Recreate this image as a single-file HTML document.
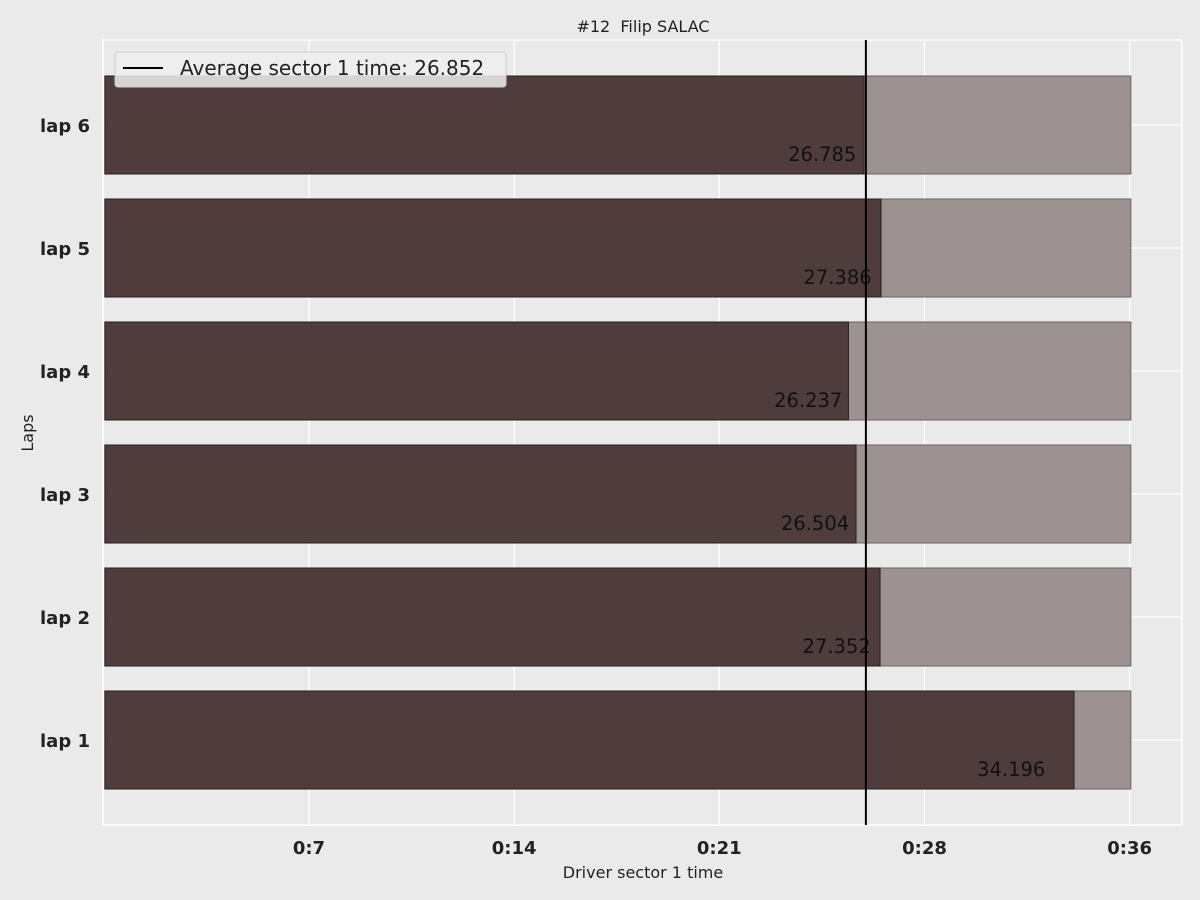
<!DOCTYPE html>
<html><head><meta charset="utf-8"><style>
body{margin:0;background:#eaeaea;}
svg{display:block;font-family:"DejaVu Sans","Liberation Sans",sans-serif;}
</style></head><body>
<svg id="chart" width="1200" height="900">
<rect width="1200" height="900" fill="#eaeaea"/>
<text x="643" y="32" text-anchor="middle" font-size="16" fill="#222">#12&#160; Filip SALAC</text>
<g id="plot"></g>
<text x="643" y="878" text-anchor="middle" font-size="16" fill="#222">Driver sector 1 time</text>
<text transform="translate(33,433) rotate(-90)" text-anchor="middle" font-size="16" fill="#222">Laps</text>
</svg>
<script>
const laps = ["lap 1","lap 2","lap 3","lap 4","lap 5","lap 6"];
const times = [34.196,27.352,26.504,26.237,27.386,26.785];
const avgTime = 26.852;
const tickValues = [7.2,14.44,21.68,28.92,36.16];
const tickLabels = ["0:7","0:14","0:21","0:28","0:36"];
const bgMax = 36.2;

const NS="http://www.w3.org/2000/svg";
const L=103,R=1182,T=40,B=825;
const x0=104.9,pps=28.34;
const x=v=>x0+v*pps;
const y=i=>740-i*123;
const g=document.getElementById('plot');
function el(t,a,p){const e=document.createElementNS(NS,t);for(const k in a)e.setAttribute(k,a[k]);(p||g).appendChild(e);return e;}
tickValues.forEach((v,i)=>{
  const ln=el('line',{x1:x(v),x2:x(v),y1:T,y2:B,stroke:'#fff','stroke-width':1.2});
  
  
  const t=el('text',{x:x(v),y:854,'text-anchor':'middle','font-size':18,'font-weight':'bold',fill:'#222'});
  t.textContent=tickLabels[i];
  
  
});
laps.forEach((l,i)=>{
  const ln=el('line',{x1:L,x2:R,y1:y(i),y2:y(i),stroke:'#fff','stroke-width':1.2});
  
  
});
const frame=el('rect',{x:L,y:T,width:R-L,height:B-T,fill:'none',stroke:'#fff','stroke-width':1.5});


laps.forEach((l,i)=>{
  const bg=el('rect',{x:x(0),y:y(i)-49,width:x(bgMax)-x(0),height:98,fill:'#9c9292',stroke:'#6a6262','stroke-width':1});
  
  
  const b=el('rect',{x:x(0),y:y(i)-49,width:x(times[i])-x(0),height:98,fill:'#4f3d3d',stroke:'#2a2020','stroke-width':1});
  
  
  const vt=el('text',{x:x(times[i]*0.9),y:y(i)+36,'text-anchor':'start','font-size':19.5,fill:'#111'});
  vt.textContent=times[i].toFixed(3);
  
  
  const yl=el('text',{x:90,y:y(i)+7,'text-anchor':'end','font-size':18,'font-weight':'bold',fill:'#222'});
  yl.textContent=l;
  
  
});
const avg=el('line',{x1:x(avgTime),x2:x(avgTime),y1:T,y2:B,stroke:'#000','stroke-width':2});


const lg=el('g',{});


el('rect',{x:115,y:52,width:391,height:35,rx:3,fill:'#eeeeee','fill-opacity':0.85,stroke:'#ccc'},lg);
el('line',{x1:123,x2:163,y1:68,y2:68,stroke:'#000','stroke-width':2},lg);
const lt=el('text',{x:180,y:75,'font-size':20,fill:'#222'},lg);
lt.textContent='Average sector 1 time: '+avgTime.toFixed(3);
</script>
</body></html>
